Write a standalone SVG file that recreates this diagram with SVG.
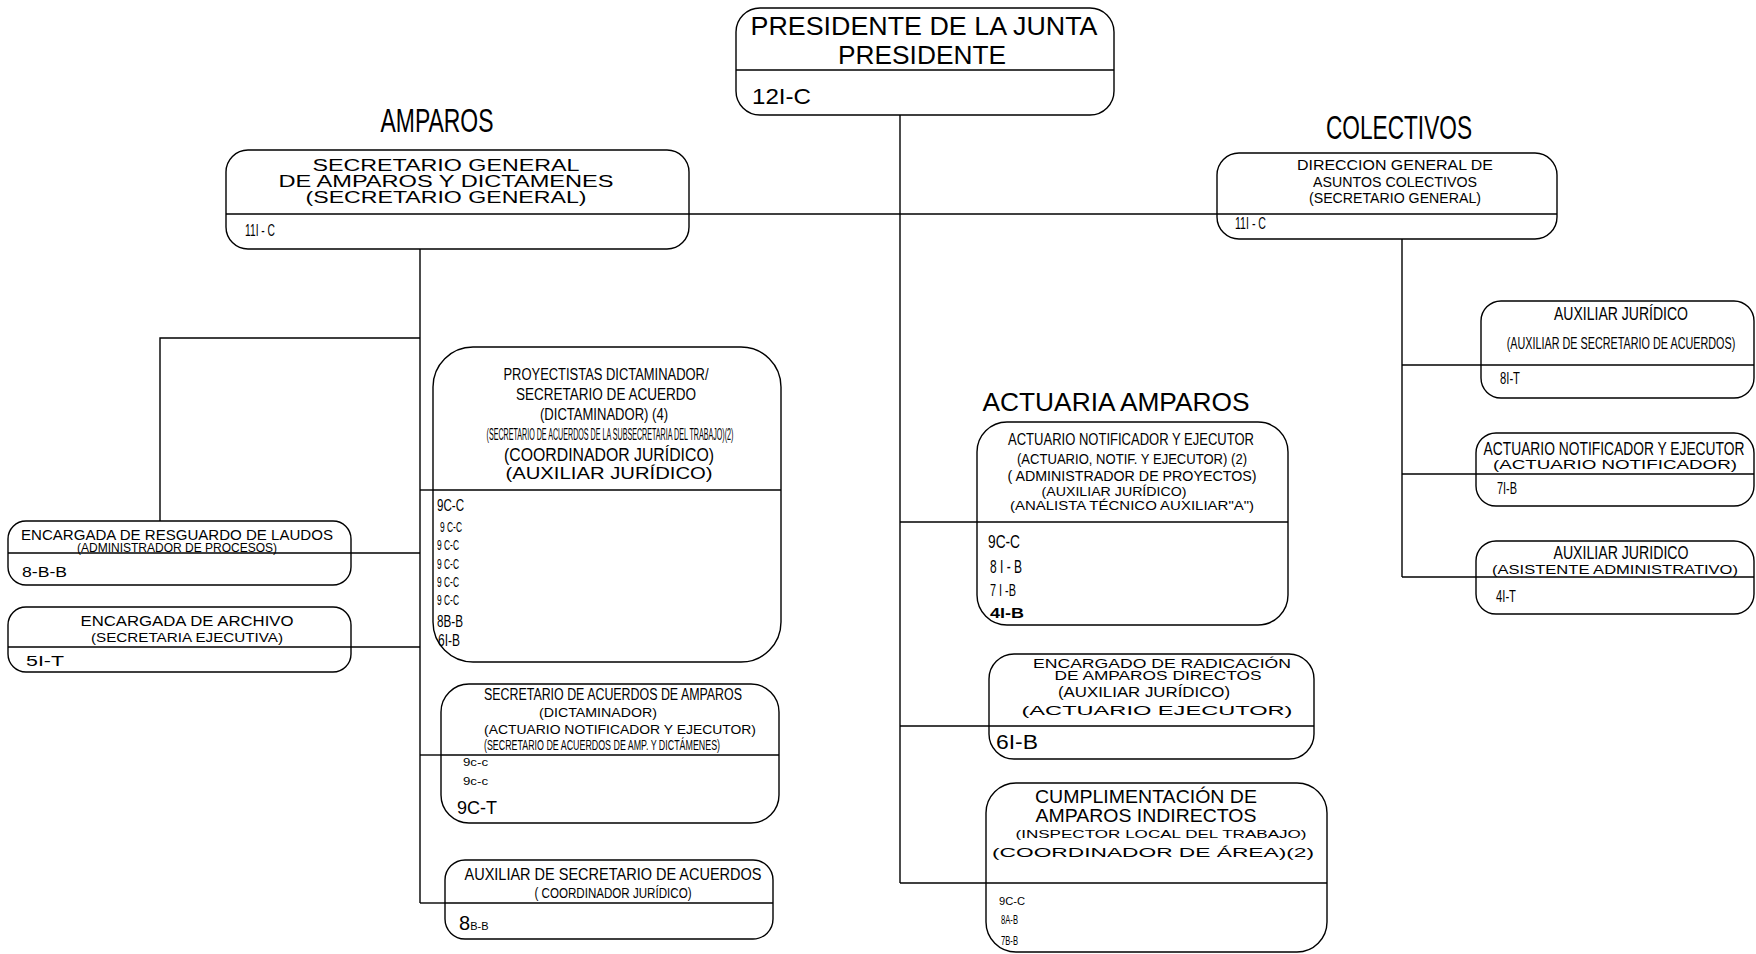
<svg xmlns="http://www.w3.org/2000/svg" width="1756" height="954" viewBox="0 0 1756 954">
<style>
.bx{fill:#fff;stroke:#000;stroke-width:1.4}
.dv{stroke:#000;stroke-width:1.3;fill:none}
.ln{stroke:#000;stroke-width:1.4;fill:none}
text{font-family:"Liberation Sans",Arial,sans-serif;fill:#000}
.n{font-family:"Liberation Sans Narrow","Liberation Sans",Arial,sans-serif}
.m{text-anchor:middle}
</style>
<rect width="1756" height="954" fill="#fff"/>
<g id="connectors">
<line class="ln" x1="900" y1="115" x2="900" y2="883"/>
<line class="ln" x1="689" y1="214" x2="1217" y2="214"/>
<line class="ln" x1="900" y1="522" x2="977" y2="522"/>
<line class="ln" x1="900" y1="726" x2="989" y2="726"/>
<line class="ln" x1="900" y1="883" x2="986" y2="883"/>
<line class="ln" x1="420" y1="249" x2="420" y2="903"/>
<polyline class="ln" points="420,338 160,338 160,521"/>
<line class="ln" x1="351" y1="553" x2="420" y2="553"/>
<line class="ln" x1="351" y1="647" x2="420" y2="647"/>
<line class="ln" x1="420" y1="490" x2="433" y2="490"/>
<line class="ln" x1="420" y1="755" x2="441" y2="755"/>
<line class="ln" x1="420" y1="903" x2="445" y2="903"/>
<line class="ln" x1="1402" y1="239" x2="1402" y2="577"/>
<line class="ln" x1="1402" y1="365" x2="1481" y2="365"/>
<line class="ln" x1="1402" y1="474" x2="1476" y2="474"/>
<line class="ln" x1="1402" y1="577" x2="1476" y2="577"/>
</g>
<g id="presidente">
<rect class="bx" x="736" y="8" width="378" height="107" rx="24"/>
<line class="dv" x1="736" y1="70" x2="1114" y2="70"/>
<text class="m" x="924" y="35" font-size="26" textLength="347" lengthAdjust="spacingAndGlyphs">PRESIDENTE DE LA JUNTA</text>
<text class="m" x="922" y="64" font-size="26" textLength="168" lengthAdjust="spacingAndGlyphs">PRESIDENTE</text>
<text x="752" y="104" font-size="22" textLength="59" lengthAdjust="spacingAndGlyphs">12I-C</text>
</g>
<g id="titulo-amparos">
<text class="n m" x="437" y="132" font-size="34" textLength="113" lengthAdjust="spacingAndGlyphs">AMPAROS</text>
</g>
<g id="titulo-colectivos">
<text class="n m" x="1399" y="139" font-size="34" textLength="146" lengthAdjust="spacingAndGlyphs">COLECTIVOS</text>
</g>
<g id="titulo-actuaria">
<text class="m" x="1116" y="411" font-size="25" textLength="267" lengthAdjust="spacingAndGlyphs">ACTUARIA  AMPAROS</text>
</g>
<g id="secretario-general">
<rect class="bx" x="226" y="150" width="463" height="99" rx="22"/>
<line class="dv" x1="226" y1="214" x2="689" y2="214"/>
<text class="m" x="446" y="171" font-size="16" textLength="267" lengthAdjust="spacingAndGlyphs">SECRETARIO GENERAL</text>
<text class="m" x="446" y="187" font-size="16" textLength="335" lengthAdjust="spacingAndGlyphs">DE  AMPAROS Y DICTAMENES</text>
<text class="m" x="446" y="203" font-size="16" textLength="281" lengthAdjust="spacingAndGlyphs">(SECRETARIO GENERAL)</text>
<text class="n" x="245" y="236" font-size="17" textLength="30" lengthAdjust="spacingAndGlyphs">11I - C</text>
</g>
<g id="direccion-colectivos">
<rect class="bx" x="1217" y="153" width="340" height="86" rx="22"/>
<line class="dv" x1="1217" y1="214" x2="1557" y2="214"/>
<text class="m" x="1395" y="170" font-size="15" textLength="196" lengthAdjust="spacingAndGlyphs">DIRECCION GENERAL DE</text>
<text class="m" x="1395" y="187" font-size="14" textLength="164" lengthAdjust="spacingAndGlyphs">ASUNTOS COLECTIVOS</text>
<text class="m" x="1395" y="203" font-size="14" textLength="172" lengthAdjust="spacingAndGlyphs">(SECRETARIO GENERAL)</text>
<text class="n" x="1235" y="229" font-size="17" textLength="31" lengthAdjust="spacingAndGlyphs">11I - C</text>
</g>
<g id="resguardo-laudos">
<rect class="bx" x="8" y="521" width="343" height="64" rx="18"/>
<line class="dv" x1="8" y1="553" x2="351" y2="553"/>
<text class="m" x="177" y="540" font-size="15" textLength="312" lengthAdjust="spacingAndGlyphs">ENCARGADA DE RESGUARDO DE LAUDOS</text>
<text class="n m" x="177" y="552" font-size="13" textLength="200" lengthAdjust="spacingAndGlyphs">(ADMINISTRADOR DE PROCESOS)</text>
<text x="22" y="577" font-size="14" textLength="45" lengthAdjust="spacingAndGlyphs">8-B-B</text>
</g>
<g id="archivo">
<rect class="bx" x="8" y="607" width="343" height="65" rx="18"/>
<line class="dv" x1="8" y1="647" x2="351" y2="647"/>
<text class="m" x="187" y="626" font-size="15" textLength="213" lengthAdjust="spacingAndGlyphs">ENCARGADA DE ARCHIVO</text>
<text class="n m" x="187" y="642" font-size="13" textLength="192" lengthAdjust="spacingAndGlyphs">(SECRETARIA EJECUTIVA)</text>
<text x="26" y="666" font-size="15" textLength="38" lengthAdjust="spacingAndGlyphs">5I-T</text>
</g>
<g id="proyectistas">
<rect class="bx" x="433" y="347" width="348" height="315" rx="40"/>
<line class="dv" x1="433" y1="490" x2="781" y2="490"/>
<text class="n m" x="606" y="380" font-size="16" textLength="205" lengthAdjust="spacingAndGlyphs">PROYECTISTAS DICTAMINADOR/</text>
<text class="n m" x="606" y="400" font-size="16" textLength="180" lengthAdjust="spacingAndGlyphs">SECRETARIO DE ACUERDO</text>
<text class="n m" x="604" y="420" font-size="16" textLength="128" lengthAdjust="spacingAndGlyphs">(DICTAMINADOR) (4)</text>
<text class="m" transform="matrix(0.42 0 0 1 610 440)" x="0" y="0" font-size="17">(SECRETARIO DE ACUERDOS DE LA SUBSECRETARIA DEL TRABAJO)(2)</text>
<text class="m" x="609" y="461" font-size="19" textLength="210" lengthAdjust="spacingAndGlyphs">(COORDINADOR JURÍDICO)</text>
<text class="m" x="609" y="479" font-size="16" textLength="207" lengthAdjust="spacingAndGlyphs">(AUXILIAR JURÍDICO)</text>
<text class="n" x="437" y="511" font-size="17" textLength="27" lengthAdjust="spacingAndGlyphs">9C-C</text>
<text class="n" x="440" y="532" font-size="14" textLength="22" lengthAdjust="spacingAndGlyphs">9 C-C</text>
<text class="n" x="437" y="550" font-size="14" textLength="22" lengthAdjust="spacingAndGlyphs">9 C-C</text>
<text class="n" x="437" y="569" font-size="14" textLength="22" lengthAdjust="spacingAndGlyphs">9 C-C</text>
<text class="n" x="437" y="587" font-size="14" textLength="22" lengthAdjust="spacingAndGlyphs">9 C-C</text>
<text class="n" x="437" y="605" font-size="14" textLength="22" lengthAdjust="spacingAndGlyphs">9 C-C</text>
<text class="n" x="437" y="627" font-size="17" textLength="26" lengthAdjust="spacingAndGlyphs">8B-B</text>
<text class="n" x="438" y="646" font-size="17" textLength="22" lengthAdjust="spacingAndGlyphs">6I-B</text>
</g>
<g id="secretario-acuerdos-amparos">
<rect class="bx" x="441" y="684" width="338" height="139" rx="28"/>
<line class="dv" x1="441" y1="755" x2="779" y2="755"/>
<text class="n m" x="613" y="700" font-size="16" textLength="258" lengthAdjust="spacingAndGlyphs">SECRETARIO DE ACUERDOS DE AMPAROS</text>
<text class="m" x="598" y="717" font-size="13" textLength="118" lengthAdjust="spacingAndGlyphs">(DICTAMINADOR)</text>
<text x="484" y="734" font-size="13" textLength="272" lengthAdjust="spacingAndGlyphs">(ACTUARIO NOTIFICADOR Y EJECUTOR)</text>
<text class="n" x="484" y="750" font-size="14" textLength="236" lengthAdjust="spacingAndGlyphs">(SECRETARIO DE ACUERDOS DE AMP. Y DICTÁMENES)</text>
<text x="463" y="766" font-size="11" textLength="25" lengthAdjust="spacingAndGlyphs">9c-c</text>
<text x="463" y="785" font-size="11" textLength="25" lengthAdjust="spacingAndGlyphs">9c-c</text>
<text x="457" y="814" font-size="18" textLength="40" lengthAdjust="spacingAndGlyphs">9C-T</text>
</g>
<g id="auxiliar-secretario">
<rect class="bx" x="445" y="860" width="328" height="79" rx="20"/>
<line class="dv" x1="445" y1="903" x2="773" y2="903"/>
<text class="m" x="613" y="880" font-size="17" textLength="297" lengthAdjust="spacingAndGlyphs">AUXILIAR DE SECRETARIO DE ACUERDOS</text>
<text class="n m" x="613" y="898" font-size="15" textLength="157" lengthAdjust="spacingAndGlyphs">( COORDINADOR JURÍDICO)</text>
<text x="459" y="930" font-size="20">8<tspan font-size="11">B-B</tspan></text>
</g>
<g id="actuario-notificador">
<rect class="bx" x="977" y="422" width="311" height="203" rx="30"/>
<line class="dv" x1="977" y1="522" x2="1288" y2="522"/>
<text class="n m" x="1131" y="445" font-size="17" textLength="246" lengthAdjust="spacingAndGlyphs">ACTUARIO NOTIFICADOR Y EJECUTOR</text>
<text class="n m" x="1132" y="464" font-size="15" textLength="230" lengthAdjust="spacingAndGlyphs">(ACTUARIO, NOTIF. Y EJECUTOR) (2)</text>
<text class="m" x="1132" y="481" font-size="14" textLength="249" lengthAdjust="spacingAndGlyphs">( ADMINISTRADOR DE PROYECTOS)</text>
<text class="m" x="1114" y="496" font-size="13" textLength="145" lengthAdjust="spacingAndGlyphs">(AUXILIAR JURÍDICO)</text>
<text class="m" x="1132" y="510" font-size="13" textLength="244" lengthAdjust="spacingAndGlyphs">(ANALISTA TÉCNICO AUXILIAR"A")</text>
<text class="n" x="988" y="548" font-size="19" textLength="32" lengthAdjust="spacingAndGlyphs">9C-C</text>
<text class="n" x="990" y="573" font-size="19" textLength="32" lengthAdjust="spacingAndGlyphs">8 I - B</text>
<text class="n" x="990" y="596" font-size="17" textLength="26" lengthAdjust="spacingAndGlyphs">7 I -B</text>
<text x="990" y="618" font-size="14" font-weight="bold" textLength="34" lengthAdjust="spacingAndGlyphs">4I-B</text>
</g>
<g id="radicacion">
<rect class="bx" x="989" y="654" width="325" height="105" rx="25"/>
<line class="dv" x1="989" y1="726" x2="1314" y2="726"/>
<text class="m" x="1162" y="668" font-size="12" textLength="258" lengthAdjust="spacingAndGlyphs">ENCARGADO DE RADICACIÓN</text>
<text class="m" x="1158" y="680" font-size="12" textLength="207" lengthAdjust="spacingAndGlyphs">DE AMPAROS DIRECTOS</text>
<text class="m" x="1144" y="697" font-size="14" textLength="172" lengthAdjust="spacingAndGlyphs">(AUXILIAR JURÍDICO)</text>
<text class="m" x="1157" y="715" font-size="12" textLength="271" lengthAdjust="spacingAndGlyphs">(ACTUARIO EJECUTOR)</text>
<text x="996" y="749" font-size="20" textLength="42" lengthAdjust="spacingAndGlyphs">6I-B</text>
</g>
<g id="cumplimentacion">
<rect class="bx" x="986" y="783" width="341" height="169" rx="30"/>
<line class="dv" x1="986" y1="883" x2="1327" y2="883"/>
<text class="m" x="1146" y="803" font-size="19" textLength="222" lengthAdjust="spacingAndGlyphs">CUMPLIMENTACIÓN DE</text>
<text class="m" x="1146" y="822" font-size="19" textLength="221" lengthAdjust="spacingAndGlyphs">AMPAROS INDIRECTOS</text>
<text class="m" x="1161" y="838" font-size="11" textLength="291" lengthAdjust="spacingAndGlyphs">(INSPECTOR LOCAL DEL TRABAJO)</text>
<text class="m" x="1153" y="857" font-size="13" textLength="322" lengthAdjust="spacingAndGlyphs">(COORDINADOR DE ÁREA)(2)</text>
<text x="999" y="905" font-size="11" textLength="26" lengthAdjust="spacingAndGlyphs">9C-C</text>
<text class="n" x="1001" y="924" font-size="12" textLength="17" lengthAdjust="spacingAndGlyphs">8A-B</text>
<text class="n" x="1001" y="945" font-size="12" textLength="17" lengthAdjust="spacingAndGlyphs">7B-B</text>
</g>
<g id="auxiliar-juridico-1">
<rect class="bx" x="1481" y="301" width="273" height="97" rx="20"/>
<line class="dv" x1="1481" y1="365" x2="1754" y2="365"/>
<text class="n m" x="1621" y="320" font-size="18" textLength="134" lengthAdjust="spacingAndGlyphs">AUXILIAR JURÍDICO</text>
<text class="m" transform="matrix(0.676 0 0 1 1621 349)" x="0" y="0" font-size="16">(AUXILIAR DE SECRETARIO DE ACUERDOS)</text>
<text class="n" x="1500" y="384" font-size="17" textLength="20" lengthAdjust="spacingAndGlyphs">8I-T</text>
</g>
<g id="actuario-colectivos">
<rect class="bx" x="1476" y="433" width="278" height="73" rx="20"/>
<line class="dv" x1="1476" y1="474" x2="1754" y2="474"/>
<text class="m" transform="matrix(0.768 0 0 1 1614 455)" x="0" y="0" font-size="18">ACTUARIO NOTIFICADOR Y EJECUTOR</text>
<text class="m" x="1615" y="469" font-size="13" textLength="244" lengthAdjust="spacingAndGlyphs">(ACTUARIO NOTIFICADOR)</text>
<text class="n" x="1497" y="494" font-size="17" textLength="20" lengthAdjust="spacingAndGlyphs">7I-B</text>
</g>
<g id="auxiliar-juridico-2">
<rect class="bx" x="1476" y="541" width="278" height="73" rx="20"/>
<line class="dv" x1="1476" y1="577" x2="1754" y2="577"/>
<text class="n m" x="1621" y="559" font-size="18" textLength="135" lengthAdjust="spacingAndGlyphs">AUXILIAR JURIDICO</text>
<text class="m" x="1615" y="574" font-size="13" textLength="246" lengthAdjust="spacingAndGlyphs">(ASISTENTE ADMINISTRATIVO)</text>
<text class="n" x="1496" y="602" font-size="17" textLength="20" lengthAdjust="spacingAndGlyphs">4I-T</text>
</g>
</svg>
